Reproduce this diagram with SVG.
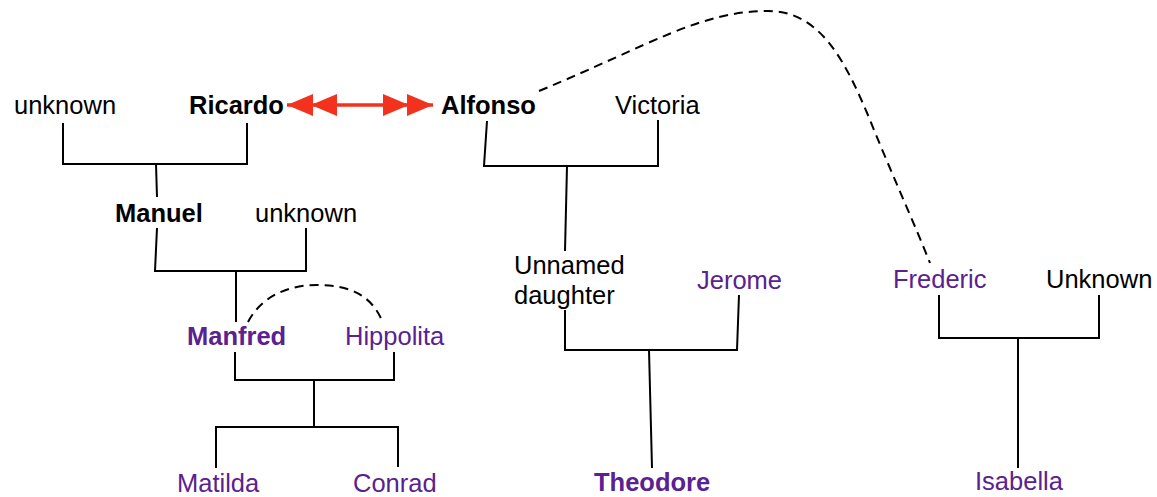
<svg xmlns="http://www.w3.org/2000/svg" width="1157" height="497" viewBox="0 0 1157 497">
<defs>
<style>
text{font-family:"Liberation Sans",Arial,Helvetica,sans-serif;font-size:25.5px;fill:#000}
.b{font-weight:bold}
.p{fill:#5a2190}
.ln{fill:none;stroke:#000;stroke-width:2}
.ds{fill:none;stroke:#000;stroke-width:2;stroke-dasharray:9 6}
.red{stroke:#f2321c;stroke-width:3.5;fill:none}
</style>
<marker id="dbl" markerUnits="userSpaceOnUse" viewBox="0 0 50 22" refX="50" refY="11" markerWidth="50" markerHeight="22" orient="auto-start-reverse">
<path d="M0,0 L26,11 L0,22 Z M24,0 L50,11 L24,22 Z" fill="#f2321c"/>
</marker>
</defs>
<rect width="1157" height="497" fill="#fff"/>
<g id="connectors">
<path class="ln" d="M63,123 V164 H247 V123 M156,164 L157,197"/>
<path class="ln" d="M157,228 L155,271 H306 V228 M236,271 V322"/>
<path class="ln" d="M235,352 V380 H394 V352 M314,380 V427 M216,468 V427 H398 V467"/>
<path class="ln" d="M487,121 L484,166 H658 V120 M567,166 L565,251"/>
<path class="ln" d="M565,310 V350 H737 L739,295 M649,350 L652,468"/>
<path class="ln" d="M939,295 V338 H1099 V295 M1018,338 V468"/>
<path class="ds" d="M248,322 C262,295 290,285 317,285 C350,285 372,295 383,323"/>
<path class="ds" d="M539,91 C650,45 700,11 768,11 C820,11 845,60 870,120 C890,170 915,225 930,263"/>
<path class="red" d="M287,105 L433,105" marker-start="url(#dbl)" marker-end="url(#dbl)"/>
</g>
<g id="n-unknown1"><text x="14" y="114">unknown</text></g>
<g id="n-ricardo"><text class="b" x="189" y="114">Ricardo</text></g>
<g id="n-alfonso"><text class="b" x="441" y="114">Alfonso</text></g>
<g id="n-victoria"><text x="615" y="114">Victoria</text></g>
<g id="n-manuel"><text class="b" x="115" y="222">Manuel</text></g>
<g id="n-unknown2"><text x="255" y="222">unknown</text></g>
<g id="n-unnamed"><text x="514" y="274">Unnamed</text><text x="514" y="304">daughter</text></g>
<g id="n-jerome"><text class="p" x="697" y="289">Jerome</text></g>
<g id="n-frederic"><text class="p" x="893" y="288">Frederic</text></g>
<g id="n-unknown3"><text x="1046" y="288">Unknown</text></g>
<g id="n-manfred"><text class="b p" x="187" y="345">Manfred</text></g>
<g id="n-hippolita"><text class="p" x="345" y="345">Hippolita</text></g>
<g id="n-matilda"><text class="p" x="177" y="492">Matilda</text></g>
<g id="n-conrad"><text class="p" x="353" y="492">Conrad</text></g>
<g id="n-theodore"><text class="b p" x="594" y="491">Theodore</text></g>
<g id="n-isabella"><text class="p" x="975" y="490">Isabella</text></g>
</svg>
